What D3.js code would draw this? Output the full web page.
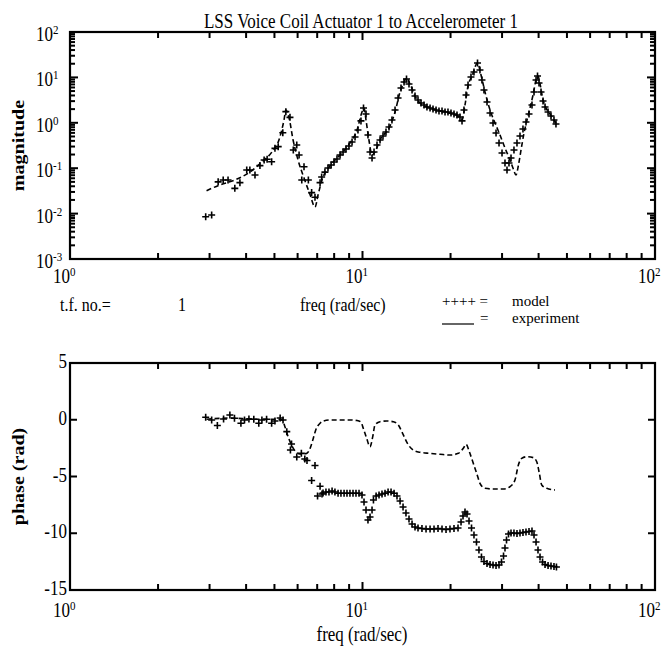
<!DOCTYPE html>
<html>
<head>
<meta charset="utf-8">
<script src="https://cdn.jsdelivr.net/npm/d3@7"></script>
<style>
body { margin: 0; background: #fff; }
text { font-family: "Liberation Serif", "Times New Roman", serif; fill: #000; }
</style>
</head>
<body>
<div id="chart"></div>
<script>
// ---- data: [freq (rad/sec), value]
var magModel = [[2.91,0.0085],[3.05,0.0093],[3.21,0.050],[3.34,0.055],[3.47,0.055],[3.66,0.036],[3.81,0.048],[4.02,0.091],[4.12,0.091],[4.29,0.071],[4.46,0.114],[4.61,0.152],[4.72,0.158],[4.89,0.139],[5.02,0.274],[5.15,0.298],[5.34,0.605],[5.47,1.76],[5.65,1.32],[5.80,0.252],[5.96,0.324],[6.07,0.195],[6.20,0.055],[6.31,0.108],[6.53,0.055],[6.70,0.029],[6.88,0.023],[7.16,0.048],[7.25,0.064],[7.44,0.082],[7.62,0.101],[7.81,0.118],[7.99,0.137],[8.18,0.160],[8.38,0.195],[8.58,0.227],[8.78,0.265],[8.99,0.308],[9.21,0.377],[9.43,0.486],[9.65,0.694],[9.88,1.10],[10.08,2.12],[10.28,1.56],[10.44,0.538],[10.61,0.227],[10.78,0.168],[10.95,0.227],[11.21,0.324],[11.48,0.418],[11.75,0.512],[12.03,0.627],[12.32,0.807],[12.61,1.15],[12.92,1.91],[13.23,3.51],[13.54,5.85],[13.87,7.92],[14.14,9.23],[14.42,7.16],[14.77,5.28],[15.12,3.89],[15.48,3.18],[15.85,2.73],[16.23,2.47],[16.61,2.23],[17.02,2.12],[17.42,2.01],[17.84,1.91],[18.26,1.82],[18.70,1.82],[19.15,1.73],[19.60,1.73],[20.07,1.64],[20.55,1.56],[21.04,1.49],[21.54,1.34],[21.89,1.10],[22.23,1.91],[22.59,4.09],[22.95,6.81],[23.49,10.2],[24.05,13.2],[24.73,20.7],[25.21,14.6],[25.61,8.77],[26.02,5.28],[26.65,2.87],[27.29,1.64],[27.94,0.99],[28.61,0.596],[29.29,0.359],[29.99,0.216],[30.70,0.130],[31.19,0.091],[31.68,0.130],[32.19,0.168],[32.95,0.252],[33.74,0.359],[34.55,0.512],[35.37,0.730],[36.22,1.04],[37.09,1.56],[37.97,2.47],[38.58,4.77],[39.20,8.77],[39.66,10.7],[40.13,7.53],[40.77,4.77],[41.42,3.02],[42.08,2.23],[43.09,1.73],[44.10,1.41],[45.15,1.15],[45.86,0.94]];

var magExp = [[2.93,0.032],[3.26,0.043],[3.66,0.055],[4.12,0.082],[4.53,0.137],[4.90,0.227],[5.18,0.418],[5.39,1.15],[5.47,1.91],[5.61,1.28],[5.79,0.418],[6.02,0.152],[6.31,0.061],[6.62,0.026],[6.88,0.014],[7.05,0.026],[7.27,0.055],[7.74,0.112],[8.38,0.195],[9.06,0.359],[9.58,0.694],[9.96,1.73],[10.12,2.12],[10.28,1.15],[10.52,0.418],[10.78,0.195],[11.03,0.227],[11.48,0.418],[12.42,0.851],[12.92,1.73],[13.44,4.77],[13.87,7.92],[14.14,9.70],[14.54,7.16],[15.12,3.89],[15.73,2.73],[17.02,2.12],[19.15,1.73],[21.21,1.41],[21.89,1.15],[22.41,2.47],[22.95,6.47],[23.68,10.7],[24.73,20.7],[25.42,11.3],[26.23,4.77],[27.29,1.91],[28.38,0.99],[29.52,0.538],[30.70,0.279],[31.93,0.152],[32.69,0.101],[33.48,0.071],[34.14,0.118],[34.83,0.252],[35.66,0.596],[36.51,1.15],[37.38,2.12],[38.28,4.09],[39.20,8.77],[39.81,10.7],[40.45,7.16],[41.42,3.18],[42.41,2.12],[43.75,1.56],[45.86,0.99]];

var phaseModel = [[2.91,0.22],[3.05,-0.02],[3.19,-0.51],[3.35,0.07],[3.52,0.42],[3.65,0.13],[3.84,-0.31],[3.95,-0.02],[4.09,0.07],[4.25,0.05],[4.42,-0.31],[4.53,-0.02],[4.70,0.04],[4.89,-0.31],[5.02,-0.11],[5.23,0.15],[5.35,-0.02],[5.51,-1.05],[5.67,-2.67],[5.72,-2.14],[5.96,-3.28],[6.18,-2.96],[6.35,-3.46],[6.46,-3.59],[6.70,-5.35],[6.88,-4.03],[7.02,-6.72],[7.16,-5.86],[7.27,-6.54],[7.33,-6.45],[7.50,-6.37],[7.68,-6.37],[7.87,-6.28],[8.05,-6.37],[8.25,-6.48],[8.44,-6.48],[8.65,-6.48],[8.85,-6.48],[9.06,-6.48],[9.28,-6.48],[9.50,-6.48],[9.73,-6.48],[9.96,-6.63],[10.12,-7.25],[10.28,-7.95],[10.44,-8.83],[10.61,-8.57],[10.78,-7.95],[10.90,-7.07],[11.13,-6.72],[11.39,-6.63],[11.66,-6.54],[11.94,-6.48],[12.23,-6.37],[12.52,-6.37],[12.82,-6.48],[13.12,-6.72],[13.44,-7.16],[13.76,-7.69],[14.08,-8.22],[14.42,-8.74],[14.77,-9.19],[15.12,-9.45],[15.48,-9.54],[15.97,-9.58],[16.49,-9.63],[17.02,-9.63],[17.56,-9.63],[18.12,-9.58],[18.70,-9.63],[19.30,-9.67],[19.91,-9.63],[20.55,-9.58],[21.21,-9.54],[21.72,-9.01],[22.06,-8.48],[22.41,-8.13],[22.77,-8.30],[23.13,-8.92],[23.59,-9.54],[24.05,-10.15],[24.53,-10.77],[25.01,-11.48],[25.51,-12.09],[26.02,-12.49],[26.65,-12.67],[27.29,-12.75],[27.94,-12.80],[28.61,-12.84],[29.29,-12.80],[29.87,-12.53],[30.35,-12.00],[30.70,-11.30],[31.07,-10.59],[31.56,-10.07],[32.19,-9.98],[32.95,-9.98],[33.74,-10.02],[34.55,-9.98],[35.37,-9.93],[36.22,-9.89],[37.09,-9.85],[37.97,-9.80],[38.58,-10.15],[39.20,-10.77],[39.81,-11.48],[40.45,-12.09],[41.26,-12.53],[42.08,-12.75],[43.09,-12.84],[44.10,-12.89],[45.15,-12.93],[46.03,-12.97]];

var phaseExp = [[2.93,0.05],[3.52,0.15],[4.29,0.05],[5.02,0.05],[5.32,-0.02],[5.43,-0.61],[5.58,-1.56],[5.80,-2.52],[6.11,-3.02],[6.45,-2.96],[6.62,-2.52],[6.79,-1.63],[6.92,-0.90],[7.16,-0.31],[7.35,-0.11],[7.74,-0.02],[8.38,-0.02],[9.06,-0.02],[9.58,-0.07],[9.88,-0.20],[10.06,-0.75],[10.33,-1.63],[10.61,-2.37],[10.84,-1.49],[11.03,-0.46],[11.48,-0.17],[12.10,-0.11],[12.75,-0.17],[13.26,-0.46],[13.79,-1.34],[14.35,-2.22],[14.92,-2.67],[15.73,-2.87],[17.02,-2.96],[18.41,-3.04],[19.91,-3.11],[21.27,-2.96],[22.11,-2.52],[22.59,-2.16],[23.18,-2.81],[23.92,-3.84],[24.57,-4.72],[25.21,-5.60],[26.23,-6.04],[28.01,-6.10],[30.29,-6.10],[31.93,-5.90],[33.21,-5.31],[34.11,-3.99],[35.02,-3.40],[36.42,-3.26],[38.36,-3.34],[39.42,-3.70],[40.23,-4.72],[41.00,-5.75],[42.64,-6.04],[45.51,-6.19]];

// tick labels
var freqLabels = [1, 10, 100];
var magLabels = [1e2, 1e1, 1e0, 1e-1, 1e-2, 1e-3];
var phaseLabels = [5, 0, -5, -10, -15];

var title = "LSS Voice Coil Actuator 1 to Accelerometer 1";

var W = 664, H = 653;
var STRETCH = 1.18;   // the scan is a little taller than wide

var svg = d3.select("#chart").append("svg")
	.attr("width", W)
	.attr("height", H);

var x = d3.scaleLog().domain([1, 100]).range([70, 655]);
var yMag = d3.scaleLog().domain([1e-3, 1e2]).range([259, 32]);
var yPh = d3.scaleLinear().domain([-15, 5]).range([590, 363]);

// text with the scan's vertical stretch
function addText(px, py, str, size, anchor, stretch){
	var s = (stretch === undefined) ? STRETCH : stretch;
	return svg.append("text")
		.attr("transform", "translate(" + px + "," + py + ") scale(1," + s + ")")
		.attr("font-size", size)
		.attr("text-anchor", anchor || "start")
		.text(str);
}

// "10" with a superscript exponent
function addPow(px, py, exp){
	var t = svg.append("text")
		.attr("transform", "translate(" + px + "," + py + ") scale(1," + STRETCH + ")")
		.attr("font-size", 17);
	t.append("tspan").text("10");
	t.append("tspan").attr("font-size", 11).attr("dy", -6).text(exp);
	return t;
}

var tickLayer = svg.append("g").attr("class", "ticks");

function tick(ax, ay, bx, by){
	tickLayer.append("path")
		.attr("d", "M" + ax + "," + ay + "L" + bx + "," + by)
		.attr("stroke", "#000")
		.attr("stroke-width", 2)
		.attr("fill", "none");
}

function frame(yScale){
	var r = yScale.range();
	var top = r[1], bot = r[0];
	var left = x.range()[0], right = x.range()[1];

	// log ticks along top and bottom, pointing in
	x.ticks().forEach(function(d){
		if (d <= 1 || d >= 100) return;
		var len = (d == 10) ? 8 : 6;
		tick(x(d), top, x(d), top + len);
		tick(x(d), bot, x(d), bot - len);
	});

	svg.append("rect")
		.attr("x", left).attr("y", top)
		.attr("width", right - left).attr("height", bot - top)
		.attr("fill", "none").attr("stroke", "#000").attr("stroke-width", 2.2);
}

// ---------- magnitude panel
frame(yMag);

yMag.ticks().forEach(function(d){
	var major = Math.abs(Math.log10(d) - Math.round(Math.log10(d))) < 1e-6;
	var len = major ? 8 : 5;
	tick(70, yMag(d), 70 + len, yMag(d));
	tick(655, yMag(d), 655 - len, yMag(d));
});

magLabels.forEach(function(d){
	addPow(36, yMag(d) + 9, String(Math.round(Math.log10(d))));
});
freqLabels.forEach(function(d){
	addPow(x(d) - 17, 283, Math.round(Math.log10(d)));
});

var lineMag = d3.line()
	.x(function(d){ return x(d[0]); })
	.y(function(d){ return yMag(d[1]); })
	.curve(d3.curveMonotoneX);

svg.append("path")
	.datum(magExp)
	.attr("d", lineMag)
	.attr("fill", "none")
	.attr("stroke", "#000")
	.attr("stroke-width", 1.6)
	.attr("stroke-dasharray", "5,3");

var cross = "M-3.5,0H3.5M0,-3.5V3.5";

svg.append("g").selectAll("path")
	.data(magModel)
	.enter().append("path")
	.attr("transform", function(d){ return "translate(" + x(d[0]) + "," + yMag(d[1]) + ")"; })
	.attr("d", cross)
	.attr("stroke", "#000")
	.attr("stroke-width", 1.6);

addText(361, 28, title, 17, "middle");

svg.append("text")
	.attr("transform", "translate(24,145.5) rotate(-90) scale(" + STRETCH + ",1)")
	.attr("font-size", 17)
	.attr("font-weight", "bold")
	.attr("text-anchor", "middle")
	.text("magnitude");

// ---------- legend row
addText(60, 311, "t.f. no.=", 16);
addText(178, 311, "1", 16);
addText(300, 311, "freq (rad/sec)", 16);
addText(442, 306, "++++ =", 15, "start", 1);
addText(512, 306, "model", 15, "start", 1);
addText(512, 323, "experiment", 15, "start", 1);
svg.append("line").attr("x1", 442).attr("x2", 474).attr("y1", 324).attr("y2", 324)
	.attr("stroke", "#000").attr("stroke-width", 1.2);
addText(480, 323, "=", 15, "start", 1);

// ---------- phase panel
frame(yPh);

phaseLabels.forEach(function(d){
	tick(70, yPh(d), 77, yPh(d));
	tick(655, yPh(d), 648, yPh(d));
	addText(67, yPh(d) + 5, String(d), 17, "end");
});
freqLabels.forEach(function(d){
	addPow(x(d) - 17, 617, Math.round(Math.log10(d)));
});

var linePh = d3.line()
	.x(function(d){ return x(d[0]); })
	.y(function(d){ return yPh(d[1]); })
	.curve(d3.curveMonotoneX);

svg.append("path")
	.datum(phaseExp)
	.attr("d", linePh)
	.attr("fill", "none")
	.attr("stroke", "#000")
	.attr("stroke-width", 1.6)
	.attr("stroke-dasharray", "5,3");

svg.append("g").selectAll("path")
	.data(phaseModel)
	.enter().append("path")
	.attr("transform", function(d){ return "translate(" + x(d[0]) + "," + yPh(d[1]) + ")"; })
	.attr("d", cross)
	.attr("stroke", "#000")
	.attr("stroke-width", 1.6);

svg.append("text")
	.attr("transform", "translate(24,476.5) rotate(-90) scale(" + STRETCH + ",1)")
	.attr("font-size", 17)
	.attr("font-weight", "bold")
	.attr("text-anchor", "middle")
	.text("phase (rad)");

addText(362, 641, "freq (rad/sec)", 17, "middle");
</script>
</body>
</html>
